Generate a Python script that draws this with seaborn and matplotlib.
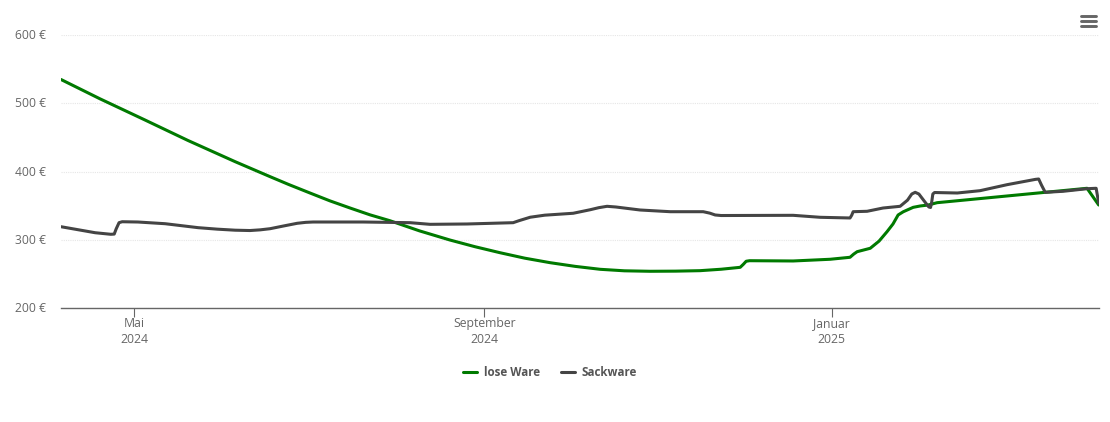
import matplotlib
matplotlib.use("Agg")
import matplotlib.dates as mdates
import matplotlib.pyplot as plt
from matplotlib.lines import Line2D
from matplotlib.transforms import ScaledTranslation
import pandas as pd
import seaborn as sns

start = pd.Timestamp("2024-04-05 05:00")
end_days = 364.8

# days since start, price in euro
lose_days = [0, 13.7, 29.5, 44.6, 61.2, 73.5, 80, 87.5, 94.5, 101.6, 108.6, 115.6, 126, 136.7, 145.5,
             154.3, 163, 171.9, 180.7, 189.5, 198, 207, 216, 224.6, 232, 238.7, 239.8, 240.8, 242,
             257.3, 270.3, 277.3, 278.6, 279.8, 284.4, 287.5, 290.3, 292.4, 294.2, 296, 299.5, 302,
             304.8, 307.9, 345.9, 360.6, 364.7]
lose_preis = [534.8, 506.5, 475.5, 445.5, 414.4, 392.4, 381, 368.5, 357, 346.5, 336.5, 327.9, 313, 299.6, 289.8,
              281, 273, 266.4, 261, 256.7, 254.5, 253.8, 254, 254.7, 256.8, 259.6, 264, 268.5, 269.3,
              268.9, 271.4, 274.3, 279, 282.5, 287.5, 298, 311.8, 323.1, 336.3, 341, 347.5, 349.5,
              350.9, 354.3, 369.5, 375.4, 350.9]

sack_days = [0, 12, 17.5, 18.7, 19.4, 20.4, 21.5, 27, 36.6, 48.2, 55, 61.2, 66.4, 70, 73.5, 78, 83,
             86, 88.6, 106.2, 122.7, 129.7, 142.7, 158.9, 161, 164.9, 170, 180, 186, 189, 191.9, 195,
             203.5, 214.1, 225.7, 228, 229.9, 232, 257.3, 266.8, 277.3, 277.9, 278.4, 283.3, 288.9,
             292.5, 294.9, 297.5, 299, 300.2, 301.5, 303.5, 305, 305.6, 306, 306.4, 307, 315, 323,
             332.5, 342.5, 343.6, 344.6, 345.9, 352.2, 360.6, 363.8, 364.7]
sack_preis = [319.1, 310.3, 308, 308.3, 316, 325, 326.4, 326, 323.5, 317.7, 315.5, 314, 313.5, 314.5, 316.2, 320, 324.1,
              325.5, 326, 326, 325, 322.6, 323.1, 325, 328, 333, 336, 338.8, 344, 347, 349, 348,
              343.6, 341.1, 341.1, 339, 336.3, 335.5, 335.8, 332.9, 331.9, 336, 341.1, 341.7, 346.5,
              348, 349, 358, 367, 369.5, 367, 356, 348, 347.3, 355, 367, 369.2, 368.5, 371.9,
              380.7, 388.5, 389, 380, 369.5, 371, 374.8, 375.4, 353.8]

y_ticks = [200, 300, 400, 500, 600]
x_ticks = ["2024-05-01", "2024-09-01", "2025-01-01"]
x_labels = ["Mai\n2024", "September\n2024", "Januar\n2025"]

sns.set_style("white")
plt.rcParams["font.family"] = "Open Sans"
TXT = "#666666"


def make_frame():
    a = pd.DataFrame({"tage": lose_days, "preis": lose_preis, "sorte": "lose Ware"})
    b = pd.DataFrame({"tage": sack_days, "preis": sack_preis, "sorte": "Sackware"})
    d = pd.concat([a, b], ignore_index=True)
    d["datum"] = start + pd.to_timedelta(d["tage"], unit="D")
    return d


def main():
    data = make_frame()
    f = plt.figure(figsize=(11.10, 4.22), dpi=100)
    ax = f.add_axes([61 / 1110, 1 - 308 / 422, 1038 / 1110, 273 / 422])

    sns.lineplot(
        data=data,
        x="datum",
        y="preis",
        hue="sorte",
        hue_order=["lose Ware", "Sackware"],
        palette=["#007a00", "#444444"],
        linewidth=2.2,
        sort=False,
        estimator=None,
        ax=ax,
        solid_joinstyle="round",
        legend=False,
    )

    ax.set_xlim(start, start + pd.Timedelta(days=end_days))
    ax.set_ylim(200, 600)
    ax.set_xlabel("")
    ax.set_ylabel("")
    ax.set_xticks([mdates.date2num(pd.Timestamp(t)) for t in x_ticks])
    ax.set_xticklabels(x_labels, fontsize=8.8, color=TXT, linespacing=1.25)
    ax.set_yticks(y_ticks)
    ax.set_yticklabels([f"{v} €" for v in y_ticks], fontsize=8.7, color=TXT)
    ax.tick_params(axis="x", length=6.5, width=0.8, color="#666666", pad=0, bottom=True)
    ax.tick_params(axis="y", length=0, pad=11)

    # labels sit a pixel above the gridline
    for t in ax.get_yticklabels():
        t.set_transform(t.get_transform() + ScaledTranslation(0, 1 / 100, f.dpi_scale_trans))

    ax.grid(axis="y", color="#e6e6e6", linewidth=0.8, linestyle=(0, (1, 1)))
    ax.set_axisbelow(True)
    sns.despine(ax=ax, left=True)
    ax.spines["bottom"].set_color("#666666")
    ax.spines["bottom"].set_linewidth(1.0)

    handles = [
        Line2D([], [], color="#007a00", linewidth=2.2),
        Line2D([], [], color="#444444", linewidth=2.2),
    ]
    leg = f.legend(
        handles,
        ["lose Ware", "Sackware"],
        loc="center",
        bbox_to_anchor=(550 / 1110, 1 - 372.5 / 422),
        ncol=2,
        frameon=False,
        handlelength=1.2,
        handletextpad=0.6,
        columnspacing=1.8,
        prop={"size": 8.4, "weight": "bold"},
    )
    for t in leg.get_texts():
        t.set_color("#555555")

    # menu icon top right
    for py in (16.3, 21.3, 26.3):
        f.add_artist(
            Line2D(
                [1081 / 1110, 1095.5 / 1110],
                [1 - py / 422, 1 - py / 422],
                color="#666666",
                linewidth=2.1,
                solid_capstyle="round",
                transform=f.transFigure,
            )
        )

    f.savefig("out.png", dpi=100)
    plt.close(f)


if __name__ == "__main__":
    main()
